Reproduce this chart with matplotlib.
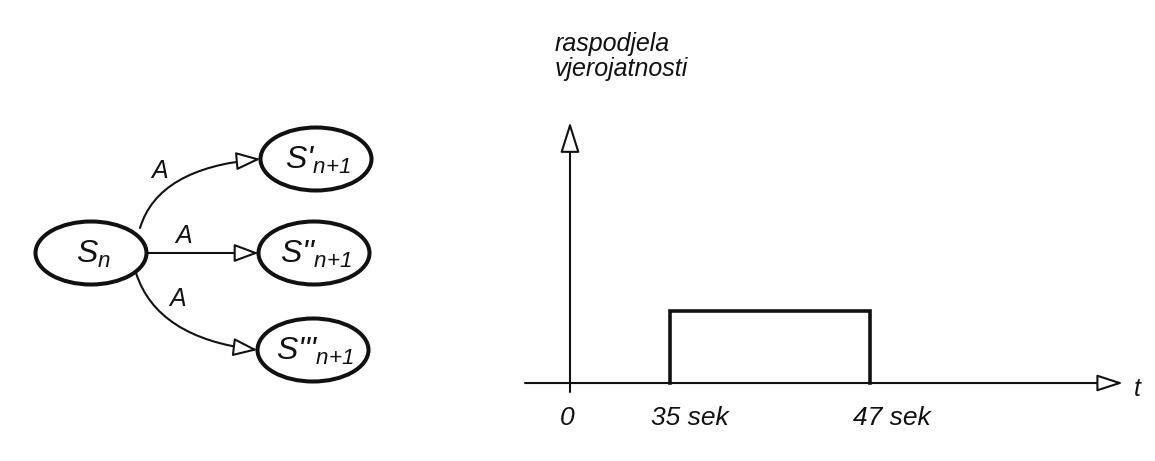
import numpy as np
import matplotlib
matplotlib.use("Agg")
import matplotlib.pyplot as plt
from matplotlib.patches import Ellipse, FancyArrowPatch
from matplotlib.path import Path

plt.rcParams['font.family'] = ['Liberation Sans', 'DejaVu Sans']
plt.rcParams['mathtext.fontset'] = 'custom'
plt.rcParams['mathtext.it'] = 'Liberation Sans:italic'
plt.rcParams['mathtext.rm'] = 'Liberation Sans:italic'

INK = "#111111"

# --- state diagram (laid out in pixel units) ---
node_labels = [r"$S_n$", r"$S\text{'}_{n{+}1}$", r"$S\text{''}_{n{+}1}$",
               r"$S\text{'''}_{n{+}1}$"]
node_x = [91, 316, 314, 313]
node_y = [253, 159, 253, 350]
node_w, node_h = 111, 63
edge_label = "A"
edge_label_x = [160, 184, 178]
edge_label_y = [171, 236, 299]
edge_start = [(140, 228), (147, 253), (136, 273)]
edge_ctrl = [(158, 168), None, (157, 338)]

# --- probability distribution ---
t_knots = [-5, 0, 35, 47, 80]          # schematic (not to scale) time axis
t_px = [0, 45, 145, 345, 598]
t_ticks = [0, 35, 47]
t_tick_labels = ["0", "35 sek", "47 sek"]
pdf_t = [35, 35, 47, 47]
pdf_p = [0, 1 / 12, 1 / 12, 0]
p_top = 0.302
ylabel = "raspodjela\nvjerojatnosti"

fig = plt.figure(figsize=(11.55, 4.61), dpi=100)
ax1 = fig.add_axes([0, 0, 1, 1])
ax1.set_xlim(0, 1155); ax1.set_ylim(461, 0); ax1.axis("off")

for lab, x, y in zip(node_labels, node_x, node_y):
    ax1.add_patch(Ellipse((x, y), node_w, node_h, fc="white", ec=INK, lw=2.9, zorder=2))
    ax1.text(x + 2, y + 1, lab, fontsize=23, ha="center", va="center", color=INK, zorder=3)

head = "-|>,head_length=0.75,head_width=0.28"
for k, (s, c) in enumerate(zip(edge_start, edge_ctrl)):
    end = (node_x[k + 1] - node_w / 2, node_y[k + 1])
    if c is None:
        path = Path([s, end], [Path.MOVETO, Path.LINETO])
    else:
        path = Path([s, c, end], [Path.MOVETO, Path.CURVE3, Path.CURVE3])
    ax1.add_patch(FancyArrowPatch(path=path, arrowstyle=head, mutation_scale=20,
                                  lw=1.5, ec=INK, fc="white", zorder=1))
    ax1.text(edge_label_x[k], edge_label_y[k], edge_label, fontsize=18,
             style="italic", ha="center", va="center", color=INK)

# right-hand chart
ax2 = fig.add_axes([525 / 1155, (461 - 392) / 461, 598 / 1155, 270 / 461])
ax2.patch.set_alpha(0)
ax2.set_xscale("function", functions=(lambda t: np.interp(t, t_knots, t_px),
                                      lambda u: np.interp(u, t_px, t_knots)))
ax2.set_xlim(t_knots[0], t_knots[-1])
ax2.set_ylim(-0.0104, p_top)
ax2.axis("off")

arrow = dict(arrowstyle="-|>,head_length=0.8,head_width=0.26", mutation_scale=20,
             lw=1.5, ec=INK, fc="white", shrinkA=0, shrinkB=0)
ax2.annotate("", xy=(t_knots[-1], 0), xytext=(t_knots[0], 0), arrowprops=arrow)
ay = dict(arrow, arrowstyle="-|>,head_length=0.95,head_width=0.3")
ax2.annotate("", xy=(0, p_top), xytext=(0, -0.0104), arrowprops=ay)

ax2.plot(pdf_t, pdf_p, color=INK, lw=2.6, solid_joinstyle="miter")

label_shift = [-3, 20, 22]   # px, labels sit slightly right of their ticks
for t, lab, dx in zip(t_ticks, t_tick_labels, label_shift):
    ax2.annotate(lab, xy=(t, 0), xytext=(dx * 0.72, -25), textcoords="offset points",
                 ha="center", va="center", fontsize=19, style="italic", color=INK)
ax2.annotate("t", xy=(t_knots[-1], 0), xytext=(10, -4), textcoords="offset points",
             ha="center", va="center", fontsize=18, style="italic", color=INK)

fig.text(555 / 1155, 1 - 32 / 461, ylabel, ha="left", va="top", fontsize=18,
         style="italic", color=INK, linespacing=1.05)

fig.savefig("out.png", dpi=100, facecolor="white")
